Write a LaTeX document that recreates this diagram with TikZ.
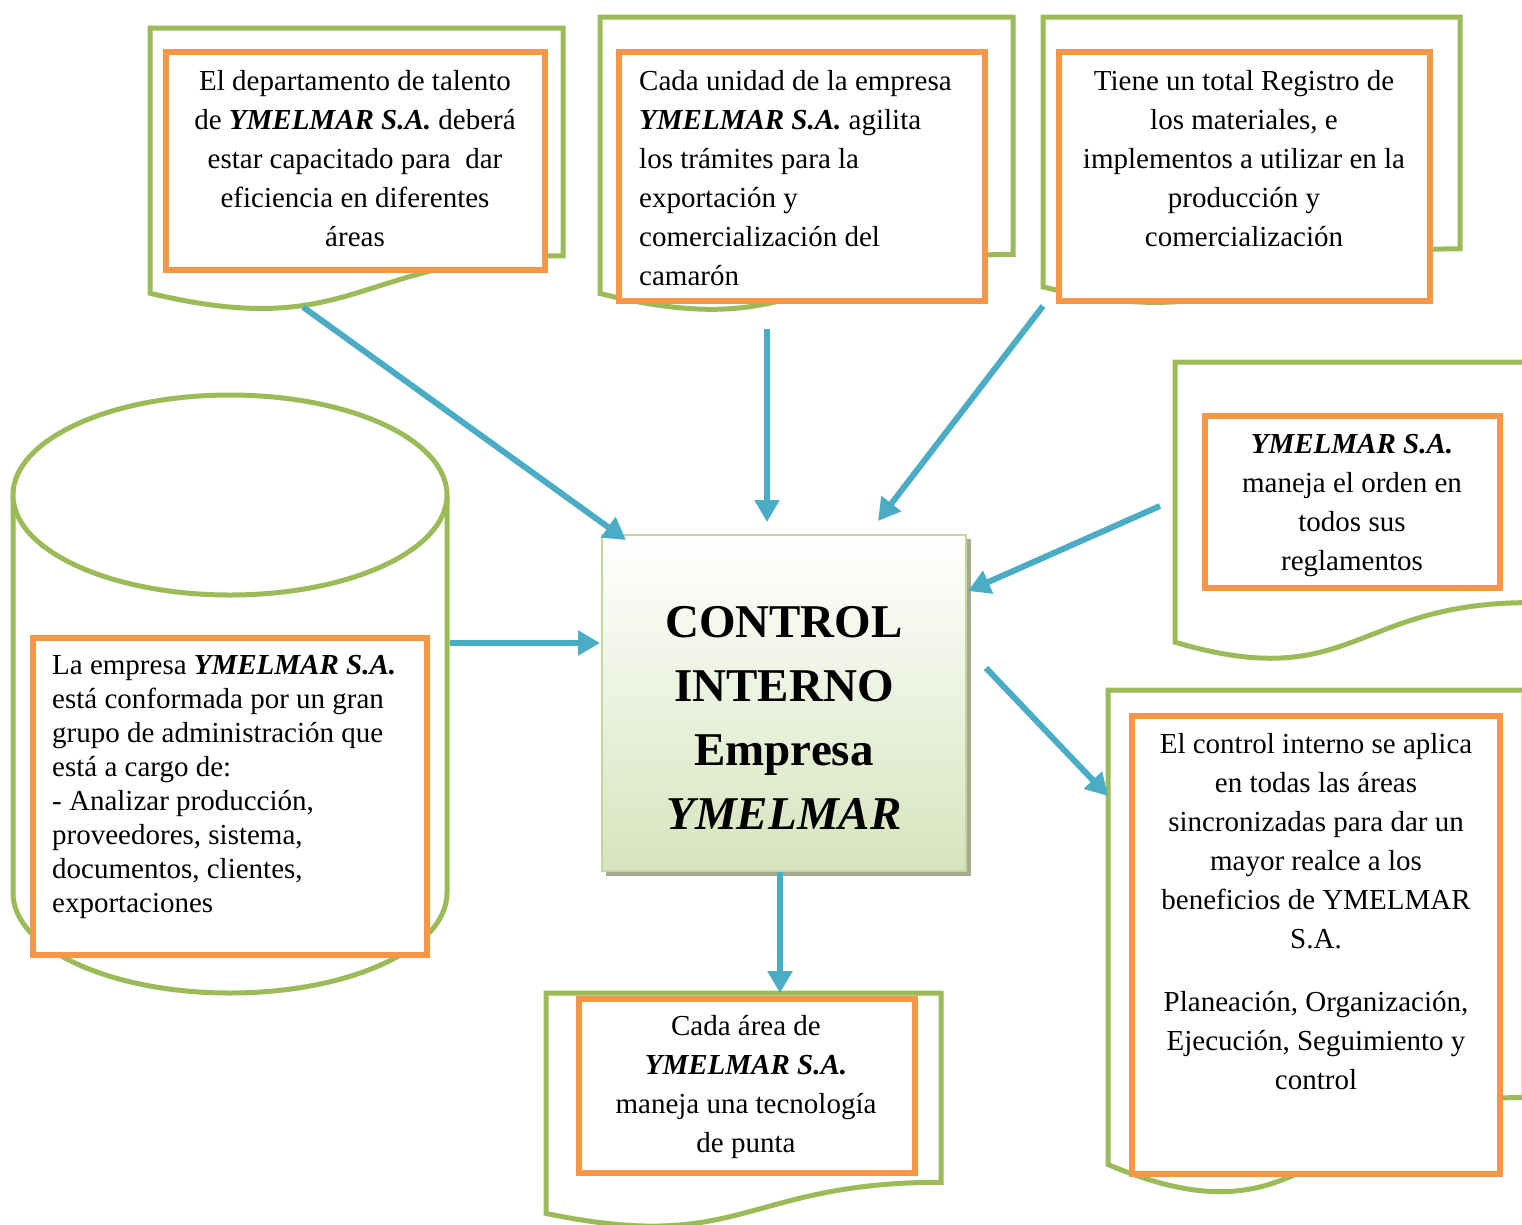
\documentclass[tikz,border=0pt]{standalone}
\usepackage{fontspec}
\setmainfont{Liberation Serif}
\usetikzlibrary{arrows.meta}
\definecolor{docgreen}{HTML}{9BBB59}
\definecolor{boxorange}{HTML}{F79646}
\definecolor{arrowblue}{HTML}{4BACC6}
\definecolor{ctrlborder}{HTML}{C3D69B}
\definecolor{ctrlbottom}{HTML}{D7E4BD}
\definecolor{ctrlshadow}{HTML}{A3AB92}
\tikzset{
  docline/.style={draw=docgreen, line width=5pt, fill=white, line join=miter},
  obox/.style={draw=boxorange, line width=6pt, fill=white, inner sep=0pt, anchor=north west},
  txt/.style={inner sep=0pt, font=\fontsize{29}{39}\selectfont, text=black},
  conn/.style={draw=arrowblue, line width=6pt, -{Triangle[length=22pt,width=24pt]}},
}
\newcommand\docshape[4]{\draw[docline] (#1,#2) -- ({#1+#3},#2) -- ({#1+#3},{#2+0.802*#4}) .. controls ({#1+0.5*#3},{#2+0.802*#4}) and ({#1+0.5*#3},{#2+1.108*#4}) .. (#1,{#2+0.934*#4}) -- cycle;}
\newcommand\orangebox[5]{\node[obox, minimum width={#4-#2-6}, minimum height={#5-#3-6}] (#1) at (#2,#3) {};}
\newcommand\ym{\textbf{\textit{YMELMAR S.A.}}}
\begin{document}
\begin{tikzpicture}[x=1pt,y=-1pt]
\useasboundingbox (0,0) rectangle (1522,1224);
\clip (0,0) rectangle (1522,1224);
% ---------- document shapes (green)
\docshape{150}{28}{413}{284}
\docshape{600}{17}{413}{296}
\docshape{1043}{17}{417}{289}
\docshape{1175}{362}{355}{300}
\docshape{1108}{690}{416}{508}
\docshape{546}{993}{395}{236}
% ---------- cylinder
\draw[docline] (13,495) -- (13,893) arc[start angle=180, end angle=0, x radius=217, y radius=100] -- (447,495);
\draw[docline] (230,495) ellipse[x radius=217, y radius=100];
% ---------- orange boxes
\orangebox{b1}{163}{49}{548}{273}
\orangebox{b2}{616}{49}{988}{304}
\orangebox{b3}{1056}{49}{1433}{304}
\orangebox{b4}{1202}{413}{1503}{591}
\orangebox{b5}{1129}{713}{1503}{1177}
\orangebox{b6}{576}{996}{918}{1176}
\orangebox{b7}{30}{635}{430}{958}
% ---------- central box
\fill[ctrlshadow] (606,539) rectangle (971,876);
\node[draw=ctrlborder, line width=2pt, top color=white, bottom color=ctrlbottom, minimum width=364, minimum height=336, anchor=north west, inner sep=0pt] (ctrl) at (601,534) {};
\node[inner sep=0pt, anchor=north, align=center, font=\fontsize{47}{64}\selectfont\bfseries] (ctrltext) at (784,592.2) {\strut CONTROL\\INTERNO\\Empresa\\\textit{YMELMAR}};
% ---------- texts
\node[txt, anchor=north, align=center] (t1) at (355,62.7) {\strut El departamento de talento\\de \ym{} deberá\\estar capacitado para \ dar\\eficiencia en diferentes\\áreas};
\node[txt, anchor=north west, align=left] (t2) at (639,62.7) {\strut Cada unidad de la empresa\\\ym{} agilita\\los trámites para la\\exportación y\\comercialización del\\camarón};
\node[txt, anchor=north, align=center] (t3) at (1244,62.7) {\strut Tiene un total Registro de\\los materiales, e\\implementos a utilizar en la\\producción y\\comercialización};
\node[txt, anchor=north, align=center] (t4) at (1352,425.7) {\strut\ym\\maneja el orden en\\todos sus\\reglamentos};
\node[txt, anchor=north, align=center] (t5) at (1316,725.7) {\strut El control interno se aplica\\en todas las áreas\\sincronizadas para dar un\\mayor realce a los\\beneficios de YMELMAR\\S.A.\\[24pt]Planeación, Organización,\\Ejecución, Seguimiento y\\control};
\node[txt, anchor=north, align=center] (t6) at (746,1007.7) {\strut Cada área de\\\ym\\maneja una tecnología\\de punta};
\node[txt, anchor=north west, align=left, font=\fontsize{29}{34}\selectfont] (t7) at (52,650.2) {\strut La empresa \ym\\está conformada por un gran\\grupo de administración que\\está a cargo de:\\- Analizar producción,\\proveedores, sistema,\\documentos, clientes,\\exportaciones};
% ---------- connectors
\coordinate (s1) at (303,307); \coordinate (e1) at (626,540);
\coordinate (s2) at (767,329); \coordinate (e2) at (767,522);
\coordinate (s3) at (1043,306); \coordinate (e3) at (878,521);
\coordinate (s4) at (1160,506); \coordinate (e4) at (968,591);
\coordinate (s5) at (450,643); \coordinate (e5) at (600,643);
\coordinate (s6) at (986,668); \coordinate (e6) at (1108,796);
\coordinate (s7) at (780,872); \coordinate (e7) at (780,993);
\foreach \i in {1,...,7} {\draw[conn] (s\i) -- (e\i);}
\end{tikzpicture}
\end{document}
